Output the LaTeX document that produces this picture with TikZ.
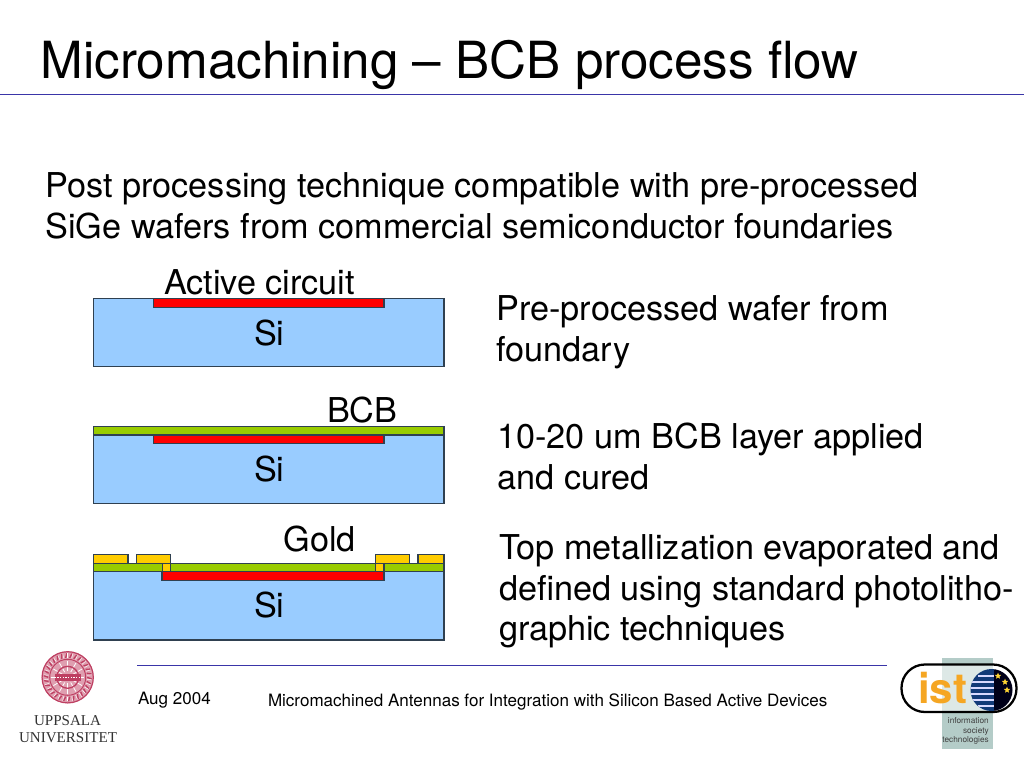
\documentclass[tikz,border=0pt]{standalone}
\usepackage{fontspec}
\setmainfont{TeX Gyre Heros}
\newfontfamily\logoserif{Liberation Serif}
\usetikzlibrary{shapes.geometric}
\definecolor{siblue}{HTML}{99CCFF}
\definecolor{bcbgreen}{HTML}{99CC00}
\definecolor{goldy}{HTML}{FFCC00}
\definecolor{edgec}{HTML}{2F4050}
\definecolor{rulec}{HTML}{3A35A8}
\definecolor{seal}{HTML}{BE3F62}
\definecolor{istgray}{HTML}{B4CCC8}
\definecolor{istorange}{HTML}{F5A623}
\definecolor{globeblue}{HTML}{123A78}
\tikzset{
  lay/.style={draw=edgec,line width=0.8pt},
  txt/.style={anchor=base west,inner sep=0pt,outer sep=0pt,text=black},
  title/.style={txt,font=\fontsize{38.4}{42}\selectfont},
  body/.style={txt,font=\fontsize{25.67}{29}\selectfont},
  small/.style={txt,font=\fontsize{12.77}{15}\selectfont},
  logotxt/.style={anchor=base,inner sep=0pt,text=black!80,font=\logoserif\fontsize{11.3}{13}\selectfont},
  isttxt/.style={anchor=base east,inner sep=0pt,text=black!75,font=\fontsize{6.2}{7}\selectfont},
}
\begin{document}
\begin{tikzpicture}[x=0.75pt,y=-0.75pt]
\useasboundingbox (0,0) rectangle (1024,768);
% rules
\draw[rulec,line width=0.6pt] (0,94) -- (1024,94);
\draw[rulec,line width=0.6pt] (137,665) -- (887,665);
% title and texts
\node[title] (ttl) at (40.5,78) {Micromachining – BCB process flow};
\node[body] (p1) at (45.5,197.3) {Post processing technique compatible with pre-processed};
\node[body] (p2) at (45.5,238.3) {SiGe wafers from commercial semiconductor foundaries};
\node[body] (a1) at (496.5,320.3) {Pre-processed wafer from};
\node[body] (a2) at (496.5,361.3) {foundary};
\node[body] (b1) at (497.5,448.3) {10-20 um BCB layer applied};
\node[body] (b2) at (497.5,489.3) {and cured};
\node[body] (c1) at (499,559.3) {Top metallization evaporated and};
\node[body] (c2) at (499,600.3) {defined using standard photolitho-};
\node[body] (c3) at (499,640.5) {graphic techniques};
% stack 1
\draw[lay,fill=siblue] (93.5,298.3) rectangle (444,366.7);
\draw[lay,fill=red] (153.3,298.3) rectangle (384,307.3);
\node[body] (l1) at (164,294.3) {Active circuit};
\node[body] (s1) at (254,345.3) {Si};
% stack 2
\draw[lay,fill=siblue] (93.5,435) rectangle (444,503.3);
\draw[lay,fill=bcbgreen] (93.5,426.3) rectangle (444,435);
\draw[lay,fill=red] (153.3,435) rectangle (384,443.7);
\node[body] (l2) at (327,422.3) {BCB};
\node[body] (s2) at (254,481.3) {Si};
% stack 3
\draw[lay,fill=siblue] (93.5,571.7) rectangle (444,640);
\draw[lay,fill=bcbgreen] (93.5,563.3) rectangle (444,571.7);
\draw[lay,fill=red] (162,571.7) rectangle (384,580.3);
\draw[lay,fill=goldy] (93.5,554.3) rectangle (128,563.3);
\draw[lay,fill=goldy] (136.7,554.3) rectangle (170.7,563.3);
\draw[lay,fill=goldy] (375.7,554.3) rectangle (409.3,563.3);
\draw[lay,fill=goldy] (418,554.3) rectangle (444,563.3);
\draw[lay,fill=goldy] (162.7,563.3) rectangle (170.7,571.7);
\draw[lay,fill=goldy] (375.7,563.3) rectangle (384,571.7);
\node[body] (l3) at (283.5,551.3) {Gold};
\node[body] (s3) at (254,617.3) {Si};
% footer
\node[small] (f1) at (138,704) {Aug 2004};
\node[small] (f2) at (268,706) {Micromachined Antennas for Integration with Silicon Based Active Devices};
% Uppsala seal
\begin{scope}[shift={(67.7,677.3)}]
  \fill[seal!50] (0,0) circle[radius=26];
  \draw[seal,line width=0.9pt] (0,0) circle[radius=25.6];
  \draw[seal,line width=0.7pt] (0,0) circle[radius=18];
  \foreach \a in {0,12,...,348}{
    \draw[seal,line width=1pt] (\a:19.5) -- (\a+4:24);
    \draw[white,line width=0.35pt] (\a+6:19.5) -- (\a+6:24);
  }
  \foreach \a in {0,30,...,330}{
    \draw[white,line width=0.6pt] (\a:6) -- (\a:16.5);
  }
  \draw[seal,line width=1pt] (0,0) circle[radius=11];
  \fill[seal] (-13,-3.5) rectangle (13,3.5);
  \draw[white,line width=0.5pt,dash pattern=on 1pt off 1pt] (-13,0) -- (13,0);
\end{scope}
\node[logotxt] (u1) at (67.5,725) {UPPSALA};
\node[logotxt] (u2) at (68,742) {UNIVERSITET};
% IST logo
\fill[istgray] (941.7,658) rectangle (992.7,749);
\fill[white,opacity=0.55,rounded corners=17.5pt] (901.5,664.5) rectangle (1016.5,712);
\draw[black,line width=1.7pt,rounded corners=17.5pt] (901.5,664.5) rectangle (1016.5,712);
\begin{scope}
  \clip (991.5,690) circle[radius=21];
  \fill[globeblue] (968,664) rectangle (994,714);
  \fill[black!90!blue] (994,664) rectangle (1016,714);
  \foreach \yy/\xx in {676/978,682/972,688/970,694/970,700/972,706/978}{
    \draw[white!85!blue,line width=1pt] (\xx,\yy) -- (994,\yy);
  }
\end{scope}
\foreach \sx/\sy in {998/676,1005/682,1007/690}{
  \node[star,star points=5,star point ratio=2.2,fill=goldy!80!white,inner sep=0pt,minimum size=5pt] at (\sx,\sy) {};
}
\node[anchor=base west,inner sep=0pt,text=istorange,font=\bfseries\fontsize{31.5}{31}\selectfont] (ist) at (918,703) {ist};
\node[isttxt] (i1) at (989,723) {information};
\node[isttxt] (i2) at (989,733) {society};
\node[isttxt] (i3) at (989,742) {technologies};
\end{tikzpicture}
\end{document}
